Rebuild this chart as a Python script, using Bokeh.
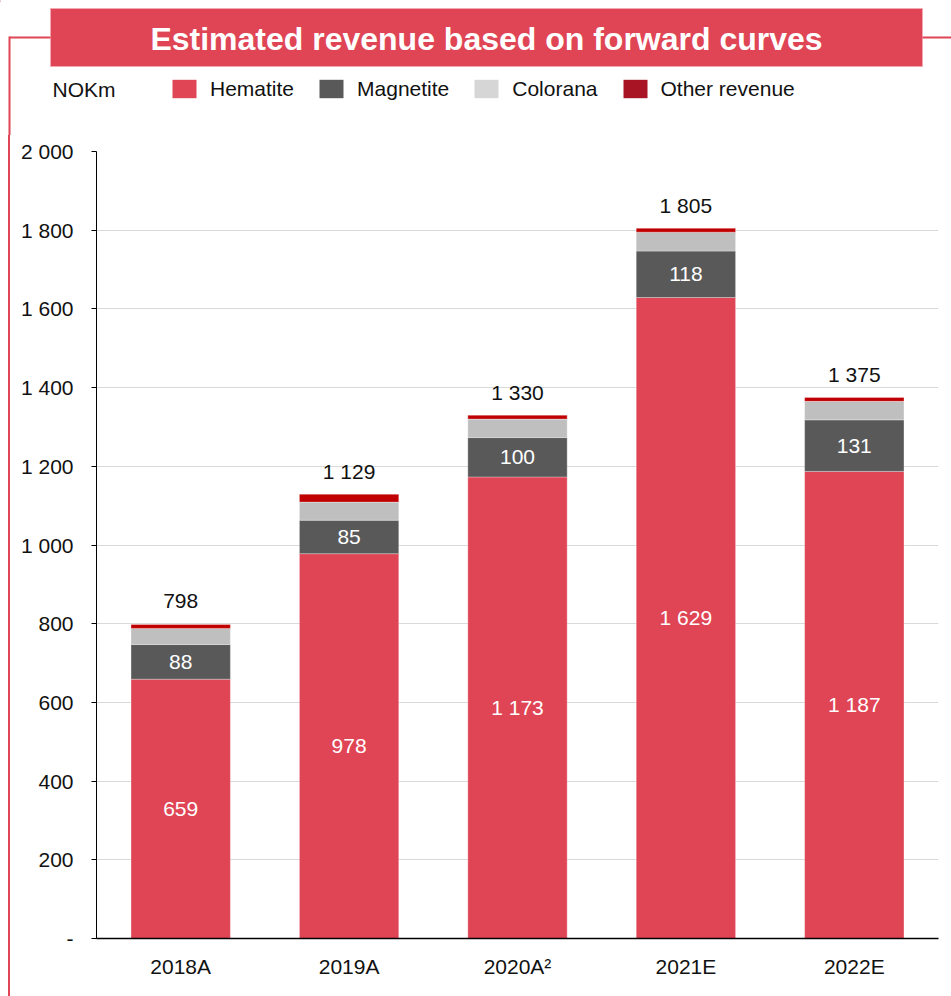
from bokeh.plotting import figure
from bokeh.models import (ColumnDataSource, LabelSet, Legend, LegendItem,
                          FixedTicker, Range1d, Div)
from bokeh.layouts import column, row
from bokeh.core.properties import value
from bokeh.embed import file_html
from bokeh.resources import INLINE

# ---- data ----
years = ["2018A", "2019A", "2020A\u00b2", "2021E", "2022E"]
hematite = [659, 978, 1173, 1629, 1187]
magnetite = [88, 85, 100, 118, 131]
colorana = [41, 46, 47, 48, 47]
other = [10, 20, 10, 10, 10]
totals = [798, 1129, 1330, 1805, 1375]
series = ["Hematite", "Magnetite", "Colorana", "Other revenue"]
y_ticks = [0, 200, 400, 600, 800, 1000, 1200, 1400, 1600, 1800, 2000]
y_tick_labels = ["-", "200", "400", "600", "800", "1 000", "1 200", "1 400",
                 "1 600", "1 800", "2 000"]
title_text = "Estimated revenue based on forward curves"
unit_text = "NOKm"

# ---- styles ----
FONT = "Liberation Sans"
FS = "21px"
bar_colors = ["#E04555", "#595959", "#BFBFBF", "#C00000"]
legend_colors = ["#E04555", "#595959", "#D6D6D6", "#A81423"]
RED = "#E04555"
TXT = "#111111"

W, H = 951, 996
HEAD_H = 135
STRIP_W = 12


def fmt(v):
    return f"{v:,}".replace(",", " ")


def bare(fig):
    fig.outline_line_color = None
    fig.grid.grid_line_color = None
    fig.min_border = 0
    fig.background_fill_color = "white"
    fig.border_fill_color = "white"


# ---------- header (title bar, frame lines, legend) ----------
head = figure(width=W, height=HEAD_H, x_range=Range1d(0, W),
              y_range=Range1d(HEAD_H, 0), output_backend="svg",
              toolbar_location=None, x_axis_location=None,
              y_axis_location=None, min_border=0)
bare(head)
head.quad(left=[50], right=[922], top=[8], bottom=[66], fill_color=RED,
          line_color="#F2A9B1", line_width=1)
head.segment(x0=[9, 922, 9], y0=[37, 37, 36], x1=[50, W, 9], y1=[37, 37, HEAD_H],
             line_color=RED, line_width=2)
head.text(x=[486], y=[38], text=[title_text], text_align="center",
          text_baseline="middle", text_font=value(FONT),
          text_font_style="bold", text_font_size="32px", text_color="white")
head.text(x=[52], y=[89], text=[unit_text], text_align="left",
          text_baseline="middle", text_font=value(FONT),
          text_font_size=FS, text_color=TXT)

# legend-only renderers (placed outside the visible range)
items = []
for name, col in zip(series, legend_colors):
    r = head.vbar(x=[-1000], top=[1], bottom=[0], width=1, fill_color=col,
                  line_color=None)
    items.append(LegendItem(label=name, renderers=[r]))
legend = Legend(items=items, orientation="horizontal",
                location=(169, HEAD_H - 100.5),
                glyph_width=30, glyph_height=23, label_standoff=11,
                spacing=22, padding=0, margin=0,
                label_text_font=FONT, label_text_font_size=FS,
                label_text_color=TXT, border_line_color=None,
                background_fill_alpha=0)
head.add_layout(legend, "center")

# ---------- left strip (vertical frame line) ----------
MAIN_H = H - HEAD_H
strip = Div(text="", width=STRIP_W, height=MAIN_H, margin=0,
            styles={"background": "linear-gradient(90deg, #ffffff 8px, "
                                  + RED + " 8px, " + RED + " 10px, #ffffff 10px)"})

# ---------- main chart ----------
p = figure(x_range=years, y_range=(0, 2000), width=W - STRIP_W, height=MAIN_H,
           output_backend="svg", toolbar_location=None,
           min_border_left=96 - STRIP_W, min_border_right=W - 938,
           min_border_top=151 - HEAD_H, min_border_bottom=H - 938)
p.outline_line_color = None

src = ColumnDataSource(dict(
    x=years, Hematite=hematite, Magnetite=magnetite, Colorana=colorana,
    **{"Other revenue": other},
    total=totals, total_txt=[fmt(v) for v in totals],
    hem_y=[h / 2 for h in hematite], hem_txt=[fmt(v) for v in hematite],
    mag_y=[h + m / 2 for h, m in zip(hematite, magnetite)],
    mag_txt=[fmt(v) for v in magnetite],
))

p.vbar_stack(series, x="x", width=0.59, source=src, color=bar_colors,
             line_color="white", line_width=0.6, line_alpha=0.5)

common = dict(source=src, text_align="center", text_baseline="middle",
              text_font=value(FONT), text_font_size=FS)
p.add_layout(LabelSet(x="x", y="total", text="total_txt", y_offset=23,
                      text_color=TXT, **common))
p.add_layout(LabelSet(x="x", y="hem_y", text="hem_txt", text_color="white",
                      **common))
p.add_layout(LabelSet(x="x", y="mag_y", text="mag_txt", text_color="white",
                      **common))

p.yaxis.ticker = FixedTicker(ticks=y_ticks)
p.yaxis.major_label_overrides = {t: l for t, l in zip(y_ticks, y_tick_labels)}
p.yaxis.major_tick_out = 5
p.yaxis.major_tick_in = 0
p.yaxis.minor_tick_line_color = None
p.yaxis.axis_line_color = "black"
p.yaxis.major_tick_line_color = "black"
p.yaxis.major_label_standoff = 18
p.yaxis.major_label_text_font = FONT
p.yaxis.major_label_text_font_size = FS
p.yaxis.major_label_text_color = TXT

p.xaxis.major_tick_line_color = None
p.xaxis.major_tick_out = 0
p.xaxis.axis_line_color = "black"
p.xaxis.axis_line_width = 1.5
p.xaxis.major_label_standoff = 16
p.xaxis.major_label_text_font = FONT
p.xaxis.major_label_text_font_size = FS
p.xaxis.major_label_text_color = TXT

p.xgrid.grid_line_color = None
p.ygrid.grid_line_color = "#D9D9D9"
p.ygrid.grid_line_width = 1

layout = column(head, row(strip, p, spacing=0), spacing=0)

open("out.html", "w").write(file_html(layout, INLINE))
